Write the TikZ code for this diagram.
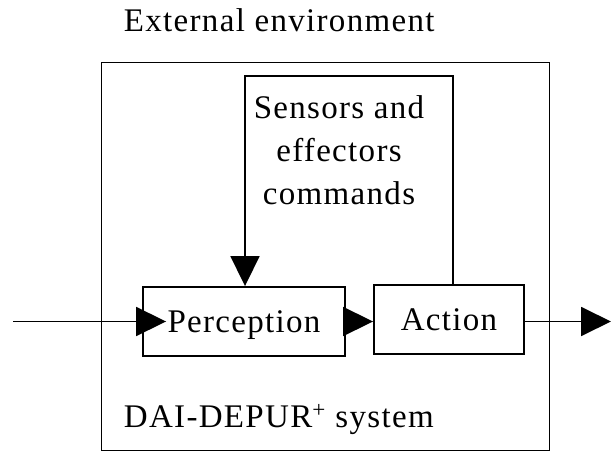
\documentclass[tikz,border=0pt]{standalone}
\usepackage{fontspec}
\setmainfont{Liberation Serif}[LetterSpace=4]
\usetikzlibrary{arrows.meta}
\begin{document}
\begin{tikzpicture}[x=1pt,y=-1pt,line width=1.9pt,
  lbl/.style={font=\fontsize{33}{43}\selectfont, inner sep=0pt},
  box/.style={draw, rectangle, lbl, text height=22pt, text depth=0pt},
  arr/.style={-{Triangle[length=30pt,width=29pt]}}]
\useasboundingbox (0,0) rectangle (611,452);
\node[draw, rectangle, inner sep=0pt, minimum width=448pt, minimum height=388pt] (sys) at (325.5,256.5) {};
\node[lbl, anchor=base west] (env) at (123,32) {External environment};
\node[lbl, anchor=base west] (sysl) at (123,427) {DAI-DEPUR\textsuperscript{+} system};
\node[box, minimum width=202pt, minimum height=69pt] (perc) at (244,321.5) {Perception};
\node[box, minimum width=150pt, minimum height=69pt] (act) at (449,319.5) {Action};
\node[lbl, align=center, anchor=north] (cmd) at (339,95) {Sensors and\\effectors\\commands};
\coordinate (in) at (13,321.5);
\coordinate (out) at (611,321.5);
\coordinate (loopL) at (245,76);
\draw[arr] (in) -- ([xshift=24pt]perc.west);
\draw[arr] (perc.east) -- (perc.east -| act.west);
\draw[arr] (act.east |- perc.east) -- (out);
\draw[arr] ([xshift=4pt]act.north) |- (loopL) -- ([xshift=1pt]perc.north);
\end{tikzpicture}
\end{document}
